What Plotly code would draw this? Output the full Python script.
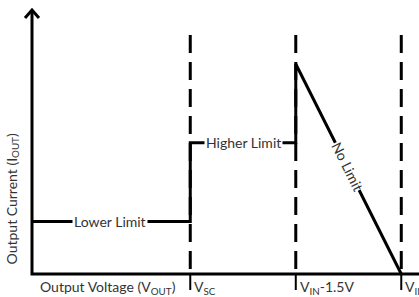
import plotly.graph_objects as go

# ---- data (schematic current-limit profile) ----
x_marks = [1.5, 2.5, 3.5]                 # V_SC, V_IN-1.5V, V_IN
x_tick_labels = ["V<sub>SC</sub>", "V<sub>IN</sub>-1.5V", "V<sub>IN</sub>"]
limit_levels = [1.0, 2.5, 4.0]            # lower limit, higher limit, peak
limit_labels = ["Lower Limit", "Higher Limit", "No Limit"]
y_top = 5.03                              # top of the y-axis arrow
dash_top = 4.55                           # top of the dashed guide lines

# profile polyline built from the values above
prof_x = [0, x_marks[0], x_marks[0], x_marks[1], x_marks[1], x_marks[2]]
prof_y = [limit_levels[0], limit_levels[0], limit_levels[1], limit_levels[1], limit_levels[2], 0]

# axis ranges (scale: ~105.5 px per x unit, 52.5 px per y unit)
XR = [-0.3033, 3.668]
YR = [-0.438, 5.219]
px_x = (XR[1] - XR[0]) / 419
px_y = (YR[1] - YR[0]) / 297

fig = go.Figure()
black = "#000000"
W = 3

# dashed guide lines
for xm in x_marks:
    fig.add_trace(go.Scatter(x=[xm, xm], y=[dash_top, 0], mode="lines",
                             line=dict(color=black, width=W, dash="18px,9px"),
                             hoverinfo="skip", showlegend=False))
# tick marks below axis
for xm in x_marks:
    fig.add_trace(go.Scatter(x=[xm, xm], y=[0, -16 * px_y], mode="lines",
                             line=dict(color=black, width=2),
                             hoverinfo="skip", showlegend=False))
# axes
fig.add_trace(go.Scatter(x=[0, 0, XR[1] + 1], y=[y_top, 0, 0], mode="lines",
                         line=dict(color=black, width=W),
                         hoverinfo="skip", showlegend=False))
# arrow head (open chevron)
fig.add_trace(go.Scatter(x=[-7 * px_x, 0, 7 * px_x],
                         y=[y_top - 8 * px_y, y_top, y_top - 8 * px_y], mode="lines",
                         line=dict(color=black, width=W),
                         hoverinfo="skip", showlegend=False))
# profile
fig.add_trace(go.Scatter(x=prof_x, y=prof_y, mode="lines",
                         line=dict(color=black, width=W),
                         hoverinfo="skip", showlegend=False))

font = dict(family="Lato, Open Sans, sans-serif", size=14, color="#333333")

# in-line labels with white background
lab_x = [(0 + x_marks[0]) / 2 - 0.01, (x_marks[0] + x_marks[1]) / 2]
for lx, ly, t in zip(lab_x, limit_levels[:2], limit_labels[:2]):
    fig.add_annotation(x=lx, y=ly, text=t, showarrow=False, font=font,
                       bgcolor="white", borderpad=1)
# No Limit along the diagonal
frac = 0.49
nx = x_marks[1] + frac * (x_marks[2] - x_marks[1])
ny = limit_levels[2] * (1 - frac)
fig.add_annotation(x=nx, y=ny, text=limit_labels[2], showarrow=False, font=font,
                   bgcolor="white", borderpad=0, textangle=63.5)

# tick labels
for xm, t in zip(x_marks, x_tick_labels):
    fig.add_annotation(x=xm + 2 * px_x, y=-13 * px_y, text=t, showarrow=False,
                       xanchor="left", yanchor="middle", font=font)
# axis titles
fig.add_annotation(x=(0 + x_marks[0]) / 2 - 0.03, y=-13 * px_y,
                   text="Output Voltage (V<sub>OUT</sub>)", showarrow=False,
                   xanchor="center", yanchor="middle", font=font)
fig.add_annotation(x=-20 * px_x, y=1.42, text="Output Current (I<sub>OUT</sub>)",
                   showarrow=False, textangle=-90, xanchor="center", yanchor="middle",
                   font=font)

fig.update_layout(
    width=419, height=297,
    margin=dict(l=0, r=0, t=0, b=0),
    paper_bgcolor="white", plot_bgcolor="white",
    xaxis=dict(range=XR, visible=False, fixedrange=True),
    yaxis=dict(range=YR, visible=False, fixedrange=True),
    showlegend=False,
)
fig.write_html("out.html", config={"displayModeBar": False},
               post_script="document.body.style.margin='0px';document.body.style.overflow='hidden';")
